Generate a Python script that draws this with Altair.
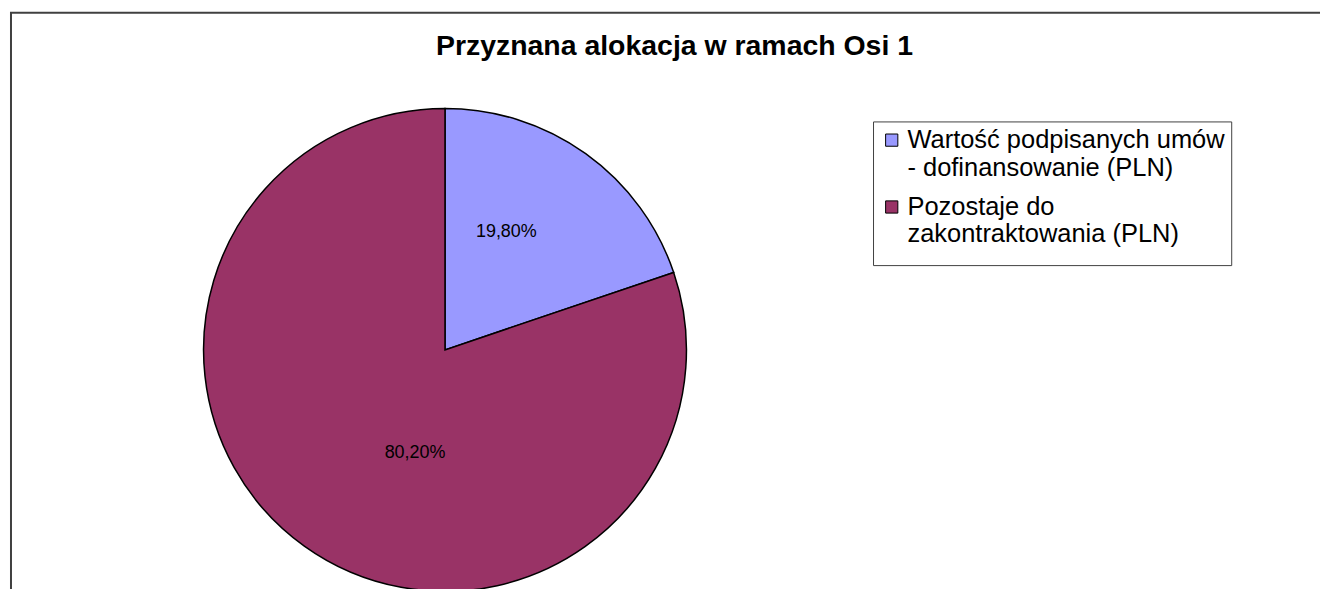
import altair as alt
import pandas as pd

categories = ["Wartość podpisanych umów - dofinansowanie (PLN)", "Pozostaje do zakontraktowania (PLN)"]
shares = [19.8, 80.2]
labels = ["19,80%", "80,20%"]
order_idx = [0, 1]
colors = ["#9999FF", "#993366"]
title_text = "Przyznana alokacja w ramach Osi 1"

df = pd.DataFrame({"cat": categories, "value": shares, "label": labels, "idx": order_idx})

W, H = 1312, 600
CX, CY = 435, 338
R = 242

base = alt.Chart(df)

pie = base.mark_arc(outerRadius=R, stroke="black", strokeWidth=1.5).encode(
    theta=alt.Theta("value:Q", stack=True),
    order=alt.Order("idx:Q"),
    color=alt.Color(
        "cat:N",
        scale=alt.Scale(domain=categories, range=colors),
        sort=categories,
        legend=alt.Legend(
            title=" ",
            titleOrient="bottom",
            titleFontSize=1,
            titlePadding=10,
            orient="none",
            legendX=864,
            legendY=109,
            labelExpr="datum.label == 'Pozostaje do zakontraktowania (PLN)' ? ['Pozostaje do', 'zakontraktowania (PLN)'] : ['Wartość podpisanych umów', '- dofinansowanie (PLN)']",
        ),
    ),
    x=alt.value(CX),
    y=alt.value(CY),
)

def label_layer(i, r, dx, dy):
    return base.transform_window(
        cum="sum(value)", sort=[alt.SortField("idx")]
    ).transform_calculate(
        mid="datum.cum - datum.value / 2"
    ).transform_filter(
        alt.datum.idx == i
    ).mark_text(
        radius=r, dx=dx, dy=dy, fontSize=18, font="Liberation Sans", color="black"
    ).encode(
        theta=alt.Theta("mid:Q", scale=alt.Scale(domain=[0, 100], range=[0, 6.283185307]), stack=None),
        text="label:N",
        x=alt.value(CX),
        y=alt.value(CY),
    )

lab1 = label_layer(0, 133, -16, -10)
lab2 = label_layer(1, 127, 44, 0)

title = alt.Chart(pd.DataFrame({"t": [title_text]})).mark_text(
    fontSize=28.5, fontWeight="bold", font="Liberation Sans", color="black", baseline="middle"
).encode(text="t:N", x=alt.value(665), y=alt.value(33))

frame_top = alt.Chart(pd.DataFrame({"k": [0]})).mark_rule(color="#404040", strokeWidth=2).encode(
    x=alt.value(-1), x2=alt.value(W), y=alt.value(0)
)
frame_left = alt.Chart(pd.DataFrame({"k": [0]})).mark_rule(color="#404040", strokeWidth=2).encode(
    x=alt.value(0), y=alt.value(0), y2=alt.value(H)
)

chart = alt.layer(pie, lab1, lab2, title, frame_top, frame_left).properties(
    width=W, height=H, padding={"left": 1, "top": 3, "right": 0, "bottom": 0}
).configure_view(
    stroke=None
).configure_legend(
    strokeColor="#404040",
    strokeWidth=1,
    fillColor="white",
    padding=6,
    labelFont="Liberation Sans",
    labelFontSize=25.5,
    labelColor="black",
    labelLimit=500,
    labelOffset=3,
    symbolType="square",
    symbolSize=150,
    symbolStrokeColor="black",
    symbolStrokeWidth=1,
    symbolOpacity=1,
    rowPadding=13,
    cornerRadius=0,
)

chart.save("out.html", embed_options={"renderer": "svg", "actions": False})
